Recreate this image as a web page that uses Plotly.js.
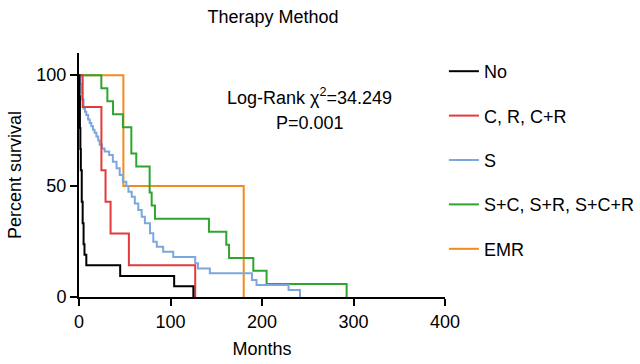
<!DOCTYPE html>
<html>
<head>
<meta charset="utf-8">
<script src="https://cdn.plot.ly/plotly-3.0.1.min.js"></script>
<style>html,body{margin:0;padding:0;background:#fff;}#chart{width:640px;height:364px;}</style>
</head>
<body>
<div id="chart"></div>
<script>
// Kaplan-Meier step data (months, percent survival)
const seriesNames = ["No", "C, R, C+R", "S", "S+C, S+R, S+C+R", "EMR"];
const noT = [0, 0.5, 1, 1.5, 2, 3, 4, 5, 6, 8, 45, 104, 125];
const noS = [100, 90.5, 76.2, 66.7, 57.1, 42.9, 33.3, 23.8, 19.0, 14.3, 9.5, 4.8, 0];
const crT = [0, 4, 24.5, 29, 34.5, 54.5, 127];
const crS = [100, 85.7, 57.1, 42.9, 28.6, 14.3, 0];
const sT = [0, 1.5, 2.5, 3.5, 5, 6.5, 8, 10, 11.7, 13.5, 15.3, 17, 19, 21, 22.6, 25, 28, 33, 37, 41, 44.5, 48, 51.7, 54, 57.6, 61, 64.8, 68.5, 72, 77.6, 81.2, 85, 92, 103, 127, 130, 143, 189, 194, 229, 241.5];
const sS = [100, 96, 92, 89, 85, 83.5, 82, 80, 78.4, 77, 75.4, 74, 72.4, 70.5, 68.6, 67, 65.6, 64, 61, 58, 55, 52, 50, 47.4, 45.2, 42.2, 39.2, 36.2, 33.2, 28.7, 24.9, 22.7, 20.4, 18, 15.2, 12.9, 10.7, 7.7, 5.4, 3.2, 0];
const gT = [0, 24.4, 31, 37.2, 48, 57.2, 62.6, 77.2, 79.4, 83, 142, 161, 164, 190.5, 205, 292.5];
const gS = [100, 94.1, 88.2, 82.4, 76.5, 64.7, 58.8, 47.1, 41.2, 35.3, 29.4, 23.5, 17.6, 11.8, 5.9, 0];
const emrT = [0, 48.5, 180];
const emrS = [100, 50, 0];
const xTicks = [0, 100, 200, 300, 400];
const yTicks = [0, 50, 100];

const colors = ["#000000", "#e23b3b", "#7ba7dd", "#2ea52e", "#f28a1c"];
const xs = [noT, crT, sT, gT, emrT];
const ys = [noS, crS, sS, gS, emrS];
const traces = [];
for (let i = 0; i < 5; i++) {
  traces.push({
    x: xs[i], y: ys[i], name: seriesNames[i], type: "scatter", mode: "lines",
    line: {shape: "hv", color: colors[i], width: 2},
    legendgroup: "g" + i, legendrank: i + 1
  });
}
// draw black on top
const data = [traces[4], traces[3], traces[2], traces[1], traces[0]];

const fam = "Liberation Sans, Arial, sans-serif";
const layout = {
  width: 640, height: 364,
  margin: {l: 79, r: 195, t: 53, b: 67, pad: 0, autoexpand: false},
  paper_bgcolor: "#fff", plot_bgcolor: "#fff",
  font: {family: fam, size: 18, color: "#000"},
  title: {text: "Therapy Method", font: {family: fam, size: 18, color: "#000"},
          x: 0.53, xref: "paper", xanchor: "center", y: 0.953, yanchor: "middle"},
  xaxis: {
    range: [0, 400], tickvals: xTicks, ticktext: xTicks.map(String),
    showgrid: false, zeroline: false, showline: true, linecolor: "#000", linewidth: 2,
    ticks: "outside", ticklen: 7, tickwidth: 2, tickcolor: "#000",
    tickfont: {family: fam, size: 18, color: "#000"},
    title: {text: "Months", font: {family: fam, size: 18, color: "#000"}, standoff: 12}
  },
  yaxis: {
    range: [0, 110], tickvals: yTicks, ticktext: yTicks.map(String),
    showgrid: false, zeroline: false, showline: true, linecolor: "#000", linewidth: 2,
    ticks: "outside", ticklen: 7, tickwidth: 2, tickcolor: "#000",
    tickfont: {family: fam, size: 18, color: "#000"},
    title: {text: "Percent survival", font: {family: fam, size: 18, color: "#000"}, standoff: 10}
  },
  legend: {x: 0.997, xanchor: "left", y: 1.0, yanchor: "top", tracegroupgap: 18,
           font: {family: fam, size: 18, color: "#000"}, bgcolor: "rgba(0,0,0,0)",
           traceorder: "grouped"},
  annotations: [
    {text: "Log-Rank χ<sup>2</sup>=34.249", xref: "paper", yref: "paper", x: 0.631, y: 0.82,
     showarrow: false, xanchor: "center", yanchor: "middle", font: {family: fam, size: 18, color: "#000"}},
    {text: "P=0.001", xref: "paper", yref: "paper", x: 0.631, y: 0.713,
     showarrow: false, xanchor: "center", yanchor: "middle", font: {family: fam, size: 18, color: "#000"}}
  ]
};
Plotly.newPlot("chart", data, layout, {displayModeBar: false, staticPlot: true});
</script>
</body>
</html>
